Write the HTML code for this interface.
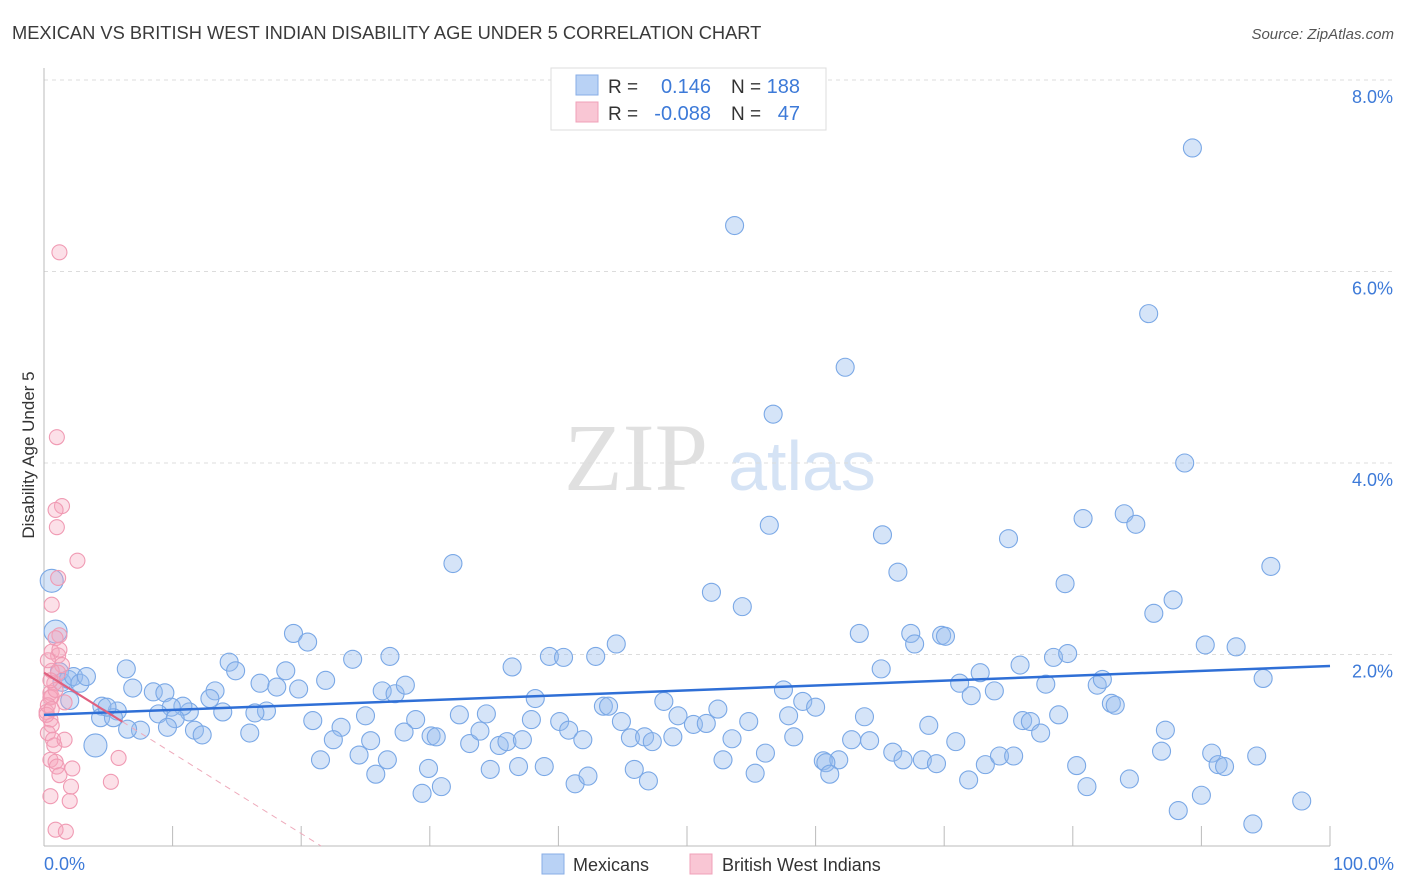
<!DOCTYPE html>
<html><head><meta charset="utf-8">
<style>
body{margin:0;background:#fff;font-family:"Liberation Sans",sans-serif;}
svg{display:block}
</style></head>
<body>
<svg id="chart" width="1406" height="892" xmlns="http://www.w3.org/2000/svg" font-family="Liberation Sans, sans-serif">
<text x="12" y="39" font-size="18.3" fill="#3a3a3a">MEXICAN VS BRITISH WEST INDIAN DISABILITY AGE UNDER 5 CORRELATION CHART</text>
<text x="1394" y="39" font-size="15" fill="#555" font-style="italic" text-anchor="end">Source: ZipAtlas.com</text>
<g>
<text x="636" y="490" font-size="96" fill="#e0e0e0" font-family="Liberation Serif, serif" text-anchor="middle">ZIP</text>
<text x="802" y="490" font-size="70" fill="#d5e3f5" text-anchor="middle">atlas</text>
</g>
<g id="grid"></g>
<g id="axes"></g>
<g id="pts"></g>
<g id="trend"></g>
<g>
<rect x="551" y="68" width="275" height="62" fill="#fff" stroke="#ddd"/>
<rect x="576" y="75" width="22" height="20" fill="#b9d2f5" stroke="#88aee6"/>
<rect x="576" y="102" width="22" height="20" fill="#f9c6d4" stroke="#f0a0b8"/>
<text x="608" y="93" font-size="19" fill="#333">R =</text>
<text x="711" y="93" font-size="20" fill="#3d7ad8" text-anchor="end">0.146</text>
<text x="731" y="93" font-size="19" fill="#333">N =</text>
<text x="800" y="93" font-size="20" fill="#3d7ad8" text-anchor="end">188</text>
<text x="608" y="120" font-size="19" fill="#333">R =</text>
<text x="711" y="120" font-size="20" fill="#3d7ad8" text-anchor="end">-0.088</text>
<text x="731" y="120" font-size="19" fill="#333">N =</text>
<text x="800" y="120" font-size="20" fill="#3d7ad8" text-anchor="end">47</text>
</g>
<text transform="translate(34,455) rotate(-90)" font-size="17" fill="#333" text-anchor="middle">Disability Age Under 5</text>
<text x="44" y="870" font-size="18" fill="#3d7ad8">0.0%</text>
<text x="1394" y="870" font-size="18" fill="#3d7ad8" text-anchor="end">100.0%</text>
<g>
<rect x="542" y="854" width="22" height="20" fill="#b9d2f5" stroke="#88aee6"/>
<text x="573" y="871" font-size="18" fill="#333">Mexicans</text>
<rect x="690" y="854" width="22" height="20" fill="#f9c6d4" stroke="#f0a0b8"/>
<text x="722" y="871" font-size="18" fill="#333">British West Indians</text>
</g>
</svg>
<script>
const yTicks=[2,4,6,8];
const yTickLabels=["2.0%","4.0%","6.0%","8.0%"];
const xTicks=[10,20,30,40,50,60,70,80,90,100];
const blueX=[89.3,53.7,85.9,62.3,56.7,88.7,31.8,56.4,65.2,75.0,80.8,84.0,84.9,66.4,51.9,79.4,54.3,87.8,86.3,95.4,63.4,67.4,67.7,69.8,70.1,90.3,92.7,19.4,20.5,44.5,39.3,40.4,42.9,36.4,24.0,26.9,14.4,14.9,6.4,18.8,21.9,65.1,72.8,75.9,78.5,79.6,81.9,82.3,94.8,77.9,71.2,73.9,72.1,6.9,8.5,9.4,13.3,12.9,16.8,18.1,19.8,26.3,27.3,28.1,38.2,43.5,43.9,48.2,52.4,57.5,59.0,60.0,83.0,83.3,13.9,17.3,16.4,11.3,10.8,9.9,8.9,10.2,7.5,11.7,12.3,16.0,20.9,23.1,25.0,28.9,32.3,34.4,37.9,40.1,44.9,49.3,50.5,51.5,54.8,57.9,63.8,68.8,76.1,76.7,78.9,87.2,77.5,5.7,4.5,4.4,5.4,6.5,9.6,30.1,22.5,25.4,28.0,30.5,33.1,33.9,35.4,36.0,37.2,40.8,41.9,45.6,46.7,47.3,48.9,53.5,58.3,62.8,64.2,70.9,86.9,90.8,94.3,21.5,24.5,26.7,29.9,25.8,34.7,36.9,38.9,45.9,52.8,56.1,60.6,61.8,60.8,66.0,66.8,68.3,69.4,73.2,74.3,75.4,80.3,91.3,91.8,41.3,42.3,47.0,55.3,61.1,71.9,81.1,84.4,29.4,30.9,90.0,88.2,97.8,94.0,0.6,0.9,1.2,1.4,1.9,2.3,2.8,3.3,2.0,4.0,4.9];
const blueY=[7.29,6.48,5.56,5.00,4.51,4.00,2.95,3.35,3.25,3.21,3.42,3.47,3.36,2.86,2.65,2.74,2.50,2.57,2.43,2.92,2.22,2.22,2.11,2.20,2.19,2.10,2.08,2.22,2.13,2.11,1.98,1.97,1.98,1.87,1.95,1.98,1.92,1.83,1.85,1.83,1.73,1.85,1.81,1.89,1.97,2.01,1.68,1.74,1.75,1.69,1.70,1.62,1.57,1.65,1.61,1.60,1.62,1.54,1.70,1.66,1.64,1.62,1.59,1.68,1.54,1.46,1.46,1.51,1.43,1.63,1.51,1.45,1.49,1.47,1.40,1.41,1.39,1.40,1.46,1.45,1.38,1.33,1.21,1.21,1.16,1.18,1.31,1.24,1.36,1.32,1.37,1.38,1.32,1.30,1.30,1.36,1.27,1.28,1.30,1.36,1.35,1.26,1.31,1.30,1.37,1.21,1.18,1.41,1.46,1.34,1.34,1.22,1.24,1.15,1.11,1.10,1.19,1.14,1.07,1.20,1.05,1.09,1.11,1.21,1.11,1.13,1.14,1.09,1.14,1.12,1.14,1.11,1.10,1.09,0.99,0.97,0.94,0.90,0.95,0.90,0.81,0.75,0.80,0.83,0.83,0.80,0.90,0.97,0.89,0.90,0.87,0.98,0.90,0.90,0.86,0.85,0.94,0.94,0.84,0.85,0.83,0.65,0.73,0.68,0.76,0.75,0.69,0.62,0.70,0.55,0.62,0.53,0.37,0.47,0.23,2.77,2.24,1.82,1.71,1.74,1.77,1.70,1.77,1.52,1.05,1.45];
const pinkX=[1.2,1.0,1.4,0.9,1.0,2.6,1.1,0.6,1.2,0.9,0.6,1.1,1.4,0.6,0.8,0.5,0.6,0.2,0.5,0.6,0.3,0.7,0.8,0.5,0.9,1.0,1.6,1.6,1.1,0.5,2.2,5.8,5.2,2.1,0.5,2.0,0.9,1.7,0.3,0.2,0.6,0.9,1.2,0.3,0.5,1.2];
const pinkY=[6.20,4.27,3.55,3.51,3.33,2.98,2.80,2.52,2.20,2.17,2.03,1.99,1.89,1.83,1.70,1.60,1.56,1.40,1.32,1.26,1.18,1.11,1.05,0.90,0.88,0.83,1.11,1.50,1.81,1.55,0.81,0.92,0.67,0.62,0.52,0.47,0.17,0.15,1.47,1.37,1.43,1.63,2.05,1.94,1.73,0.74];
const blueTrend=[1.37,1.88];
const pinkTrend=[1.81,-0.084];
const X0=44,X1=1330,Y0=846,PXPER=95.75;
const sx=v=>X0+(X1-X0)*v/100;
const sy=v=>Y0-v*PXPER;
const NS="http://www.w3.org/2000/svg";
function mk(tag,attrs,parent){const e=document.createElementNS(NS,tag);for(const k in attrs)e.setAttribute(k,attrs[k]);parent.appendChild(e);return e;}
const grid=document.getElementById('grid'),axes=document.getElementById('axes'),pts=document.getElementById('pts'),trend=document.getElementById('trend');
yTicks.forEach((t,i)=>{
 const l=mk('line',{x1:X0,x2:1394,y1:sy(t),y2:sy(t),stroke:'#dcdcdc','stroke-dasharray':'4,4'},grid);
 
 
 const tx=mk('text',{x:1393,y:sy(t)+23,'font-size':18,fill:'#3d7ad8','text-anchor':'end'},grid);
 tx.textContent=yTickLabels[i];
 
 
});
const ya=mk('line',{x1:X0,x2:X0,y1:68,y2:Y0,stroke:'#bbb'},axes);


const xa=mk('line',{x1:X0,x2:X1,y1:Y0,y2:Y0,stroke:'#bbb'},axes);


xTicks.forEach(t=>{
 const l=mk('line',{x1:sx(t),x2:sx(t),y1:Y0-20,y2:Y0,stroke:'#bbb'},axes);
 
 
});
blueX.forEach((x,i)=>{
 const big=x<5&&(blueY[i]>2.2||blueY[i]<1.1);
 const c=mk('circle',{cx:sx(x),cy:sy(blueY[i]),r:big?11.5:9,fill:'rgba(150,188,238,0.4)',stroke:'#7aa8e6','stroke-width':1.1},pts);
 
 
});
pinkX.forEach((x,i)=>{
 const c=mk('circle',{cx:sx(x),cy:sy(pinkY[i]),r:7.5,fill:'rgba(245,165,188,0.35)',stroke:'#f09ab3','stroke-width':1.1},pts);
 
 
});
const bt=mk('line',{x1:sx(0),y1:sy(blueTrend[0]),x2:sx(100),y2:sy(blueTrend[1]),stroke:'#2f6fd6','stroke-width':2.5},trend);


const pEnd=6.1,pZero=-pinkTrend[0]/pinkTrend[1];
const pt=mk('line',{x1:sx(0),y1:sy(pinkTrend[0]),x2:sx(pEnd),y2:sy(pinkTrend[0]+pinkTrend[1]*pEnd),stroke:'#e0607f','stroke-width':2.2},trend);


const pd=mk('line',{x1:sx(pEnd),y1:sy(pinkTrend[0]+pinkTrend[1]*pEnd),x2:sx(pZero),y2:sy(0),stroke:'#eeaabb','stroke-width':1,'stroke-dasharray':'6,5'},trend);


</script>
</body></html>
